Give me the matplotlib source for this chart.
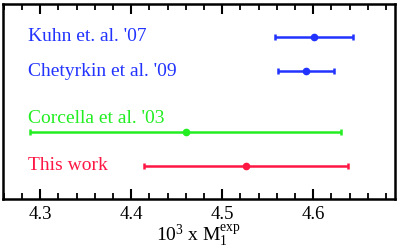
import matplotlib
matplotlib.use('Agg')
import matplotlib.pyplot as plt
from matplotlib.ticker import MultipleLocator

plt.rcParams['font.family'] = ['Liberation Serif', 'DejaVu Serif']
plt.rcParams['mathtext.fontset'] = 'custom'
plt.rcParams['mathtext.rm'] = 'Liberation Serif'
plt.rcParams['mathtext.it'] = 'Liberation Serif'

# measurements of 10^3 x M1^exp
labels = ["Kuhn et. al. '07", "Chetyrkin et al. '09", "Corcella et al. '03", "This work"]
values = [4.601, 4.592, 4.460, 4.526]
errors = [0.043, 0.031, 0.171, 0.112]

# layout
rows = [3.8, 2.8, 1.0, 0.0]
label_rows = [3.81, 2.79, 1.40, 0.02]
colors = ['#2233ff', '#2233ff', '#22ee22', '#ff1744']

fig = plt.figure(figsize=(3.99, 2.49), dpi=100)
ax = fig.add_axes([0.0075, 0.2008, 0.9825, 0.7832])

for lab, v, e, r, lr, c in zip(labels, values, errors, rows, label_rows, colors):
    ax.errorbar(v, r, xerr=e, fmt='o', color=c, ms=4.5, lw=1.8,
                capsize=2.5, capthick=1.8)
    ax.text(4.287, lr, lab, color=c, fontsize=14, va='center', ha='left')

ax.set_xlim(4.259, 4.69)
ax.set_ylim(-0.97, 4.76)
ax.set_yticks([])
ax.xaxis.set_major_locator(MultipleLocator(0.1))
ax.xaxis.set_minor_locator(MultipleLocator(0.02))
ax.tick_params(axis='x', which='both', direction='in', top=True, labelsize=13.5)
ax.tick_params(axis='x', which='major', length=7, width=1.5, pad=5)
ax.tick_params(axis='x', which='minor', length=4, width=1.3)
for s in ax.spines.values():
    s.set_linewidth(1.8)
ax.set_xlabel(r'$\mathregular{10^3}$ x $\mathregular{M_1^{exp}}$', fontsize=14, labelpad=0)

fig.savefig('out.png', dpi=100)
